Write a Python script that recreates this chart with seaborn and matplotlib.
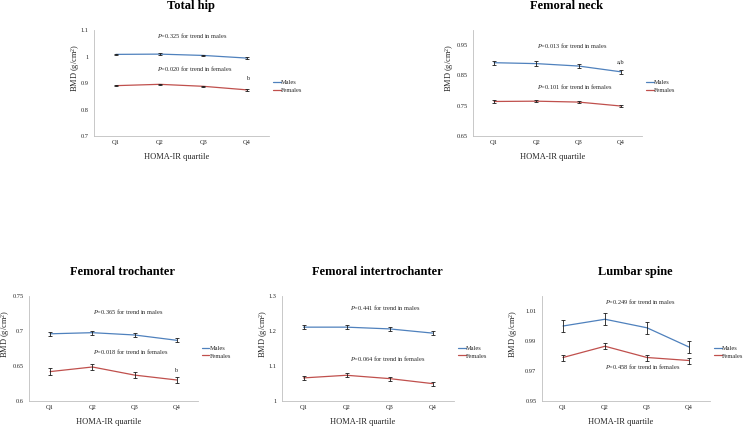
import numpy as np
import pandas as pd
import matplotlib
matplotlib.use('Agg')
import matplotlib.pyplot as plt
import seaborn as sns

# data (BMD g/cm2, mean and SE per HOMA-IR quartile)
quartiles = ['Q1', 'Q2', 'Q3', 'Q4']

hip_m = [1.008, 1.009, 1.004, 0.994]
hip_f = [0.890, 0.895, 0.8875, 0.874]
hip_m_se = [0.003, 0.003, 0.003, 0.003]
hip_f_se = [0.003, 0.003, 0.003, 0.003]

neck_m = [0.892, 0.889, 0.881, 0.862]
neck_f = [0.764, 0.765, 0.762, 0.749]
neck_m_se = [0.007, 0.007, 0.007, 0.007]
neck_f_se = [0.004, 0.004, 0.004, 0.004]

troch_m = [0.696, 0.6976, 0.6943, 0.6867]
troch_f = [0.642, 0.6486, 0.637, 0.630]
troch_m_se = [0.003, 0.003, 0.003, 0.003]
troch_f_se = [0.0045, 0.0045, 0.0045, 0.0045]

inter_m = [1.211, 1.211, 1.206, 1.194]
inter_f = [1.066, 1.0735, 1.064, 1.0497]
inter_m_se = [0.006, 0.006, 0.006, 0.006]
inter_f_se = [0.006, 0.006, 0.006, 0.006]

spine_m = [1.000, 1.0045, 0.9988, 0.986]
spine_f = [0.979, 0.9865, 0.979, 0.977]
spine_m_se = [0.004, 0.004, 0.004, 0.004]
spine_f_se = [0.002, 0.002, 0.002, 0.002]

# panel settings: title, values, y axis, notes (text, x, y)
panels = [
    dict(title='Total hip', m=hip_m, f=hip_f, m_se=hip_m_se, f_se=hip_f_se,
         ylim=(0.7, 1.1), yticks=[0.7, 0.8, 0.9, 1.0, 1.1],
         notes=[(r'$P$=0.325 for trend in males', 0.94, 1.08, 'left'),
                (r'$P$=0.020 for trend in females', 0.94, 0.955, 'left'),
                ('b', 3, 0.918, 'center')],
         box=(94, 269, 30, 136), ylab_off=19),
    dict(title='Femoral neck', m=neck_m, f=neck_f, m_se=neck_m_se, f_se=neck_f_se,
         ylim=(0.65, 1.0), yticks=[0.65, 0.75, 0.85, 0.95],
         notes=[(r'$P$=0.013 for trend in males', 1.02, 0.948, 'left'),
                (r'$P$=0.101 for trend in females', 1.02, 0.815, 'left'),
                ('a,b', 3, 0.895, 'center')],
         box=(473, 642, 30, 136), ylab_off=23),
    dict(title='Femoral trochanter', m=troch_m, f=troch_f, m_se=troch_m_se, f_se=troch_f_se,
         ylim=(0.6, 0.75), yticks=[0.6, 0.65, 0.7, 0.75],
         notes=[(r'$P$=0.365 for trend in males', 1.02, 0.728, 'left'),
                (r'$P$=0.018 for trend in females', 1.02, 0.670, 'left'),
                ('b', 2.97, 0.644, 'center')],
         box=(29, 198, 296, 401), ylab_off=23),
    dict(title='Femoral intertrochanter', m=inter_m, f=inter_f, m_se=inter_m_se, f_se=inter_f_se,
         ylim=(1.0, 1.3), yticks=[1.0, 1.1, 1.2, 1.3],
         notes=[(r'$P$=0.441 for trend in males', 1.08, 1.266, 'left'),
                (r'$P$=0.064 for trend in females', 1.08, 1.122, 'left')],
         box=(282, 454, 296, 401), ylab_off=19),
    dict(title='Lumbar spine', m=spine_m, f=spine_f, m_se=spine_m_se, f_se=spine_f_se,
         ylim=(0.95, 1.02), yticks=[0.95, 0.97, 0.99, 1.01],
         notes=[(r'$P$=0.249 for trend in males', 1.0, 1.0164, 'left'),
                (r'$P$=0.458 for trend in females', 1.0, 0.9733, 'left')],
         box=(542, 710, 296, 401), ylab_off=28),
]

sns.set_style('white')
plt.rcParams['font.family'] = ['Liberation Serif', 'DejaVu Serif']
plt.rcParams['mathtext.fontset'] = 'custom'
plt.rcParams['mathtext.rm'] = 'Liberation Serif'
plt.rcParams['mathtext.it'] = 'Liberation Serif:italic'

W, H = 745, 428
fig = plt.figure(figsize=(W / 100, H / 100), dpi=100)
colors = {'Males': '#4F81BD', 'Females': '#C0504D'}
txt_col = '#262626'
small = 4.6

for p in panels:
    l, r, t, b = p['box']
    ax = fig.add_axes([l / W, 1 - b / H, (r - l) / W, (b - t) / H])

    df = pd.DataFrame({
        'x': list(range(4)) * 2,
        'bmd': p['m'] + p['f'],
        'se': p['m_se'] + p['f_se'],
        'sex': ['Males'] * 4 + ['Females'] * 4,
    })
    sns.lineplot(data=df, x='x', y='bmd', hue='sex', palette=colors,
                 linewidth=0.9, ax=ax)
    ax.errorbar(df['x'], df['bmd'], yerr=df['se'], fmt='none', ecolor='#1a1a1a',
                elinewidth=0.6, capsize=1.3, capthick=0.6, zorder=3)

    ax.set_xlim(-0.5, 3.5)
    ax.set_ylim(*p['ylim'])
    ax.set_xticks(range(4))
    ax.set_xticklabels(quartiles)
    ax.set_xticks([-0.5, 0.5, 1.5, 2.5, 3.5], minor=True)
    ax.set_yticks(p['yticks'])
    ax.set_yticklabels([f'{v:g}' for v in p['yticks']])
    ax.tick_params(axis='x', which='major', length=0, pad=3, labelsize=small, colors=txt_col)
    ax.tick_params(axis='x', which='minor', length=2, width=0.5, color='#BFBFBF')
    ax.tick_params(axis='y', length=2, width=0.5, color='#BFBFBF', pad=2,
                   labelsize=small, labelcolor=txt_col)

    for s in ['top', 'right']:
        ax.spines[s].set_visible(False)
    for s in ['left', 'bottom']:
        ax.spines[s].set_color('#BFBFBF')
        ax.spines[s].set_linewidth(0.6)

    ax.set_xlabel('HOMA-IR quartile', fontsize=6, color=txt_col, va='center')
    ax.xaxis.set_label_coords(0.47, -21 / (b - t))
    ax.set_ylabel(r'BMD (g/cm$^\mathrm{2}$)', fontsize=6, color=txt_col, va='center')
    ax.yaxis.set_label_coords(-p['ylab_off'] / (r - l), 0.64)

    ax.text(0.5 + 9.5 / (r - l), 1 + 24 / (b - t), p['title'], transform=ax.transAxes,
            ha='center', va='center', fontsize=9, fontweight='bold', color='black')

    for s, x, y, ha in p['notes']:
        ax.text(x, y, s, ha=ha, va='center', fontsize=small, color=txt_col)

    sns.move_legend(ax, 'center left', bbox_to_anchor=(1.0, 0.467), frameon=False,
                    title=None, fontsize=small, handlelength=1.1, handletextpad=0.1,
                    labelspacing=0.35, borderaxespad=0.3)
    for h in ax.get_legend().get_lines():
        h.set_linewidth(0.9)

fig.savefig('out.png', dpi=100)
